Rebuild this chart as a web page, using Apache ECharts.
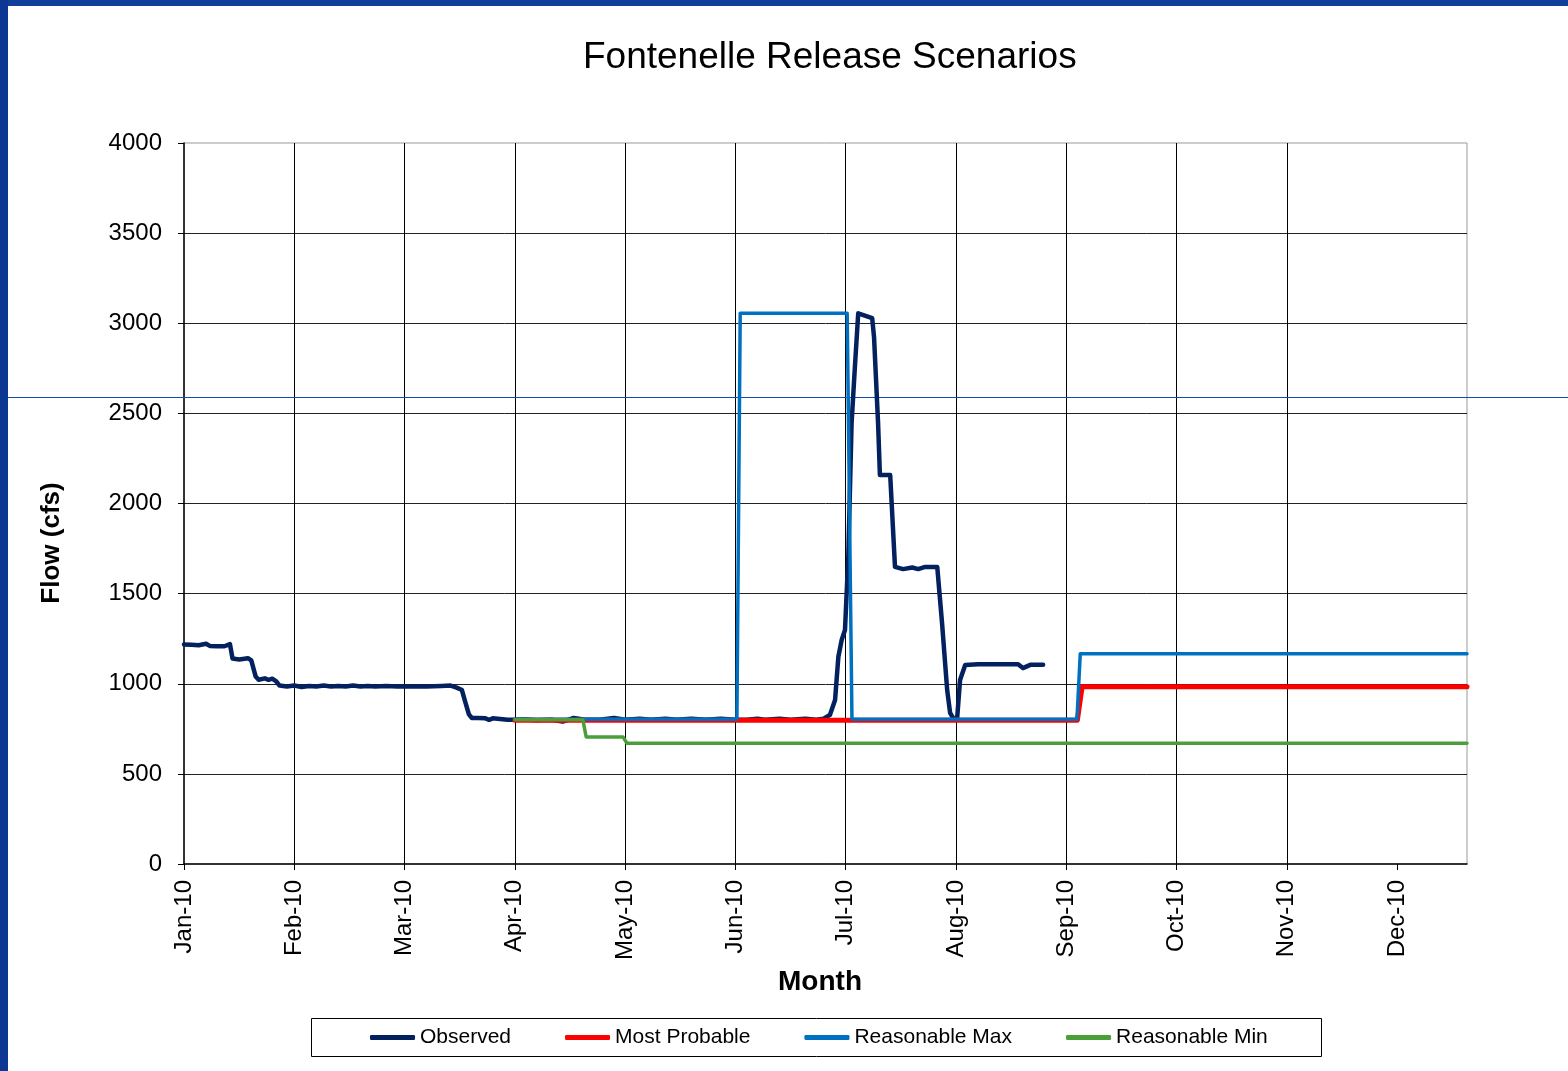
<!DOCTYPE html>
<html>
<head>
<meta charset="utf-8">
<title>Fontenelle Release Scenarios</title>
<script src="https://cdn.jsdelivr.net/npm/echarts@6/dist/echarts.min.js"></script>
<style>
html, body { margin: 0; padding: 0; background: #fff; }
#chart { width: 1568px; height: 1071px; }
</style>
</head>
<body>
<div id="chart"></div>
<script>
// x is days since 1 Jan 2010; the sheet put a tick every 30 days
const monthLabels = ['Jan-10', 'Feb-10', 'Mar-10', 'Apr-10', 'May-10', 'Jun-10',
  'Jul-10', 'Aug-10', 'Sep-10', 'Oct-10', 'Nov-10', 'Dec-10']
const tickDays = [0, 30, 60, 90, 120, 150, 180, 210, 240, 270, 300, 330]

const observedDays = [0, 2, 4, 6, 7, 9, 11, 12.5, 13.2, 15, 17.4, 18.3, 19.5, 20.3, 22, 23, 24, 25, 26,
  28, 30, 32, 34, 36, 38, 40, 42, 44, 46, 48, 50, 52, 55, 58, 62, 66, 70, 72.5, 74, 75.6, 76.5, 77.5,
  78.3, 80, 82, 83, 84, 86, 88, 90, 93, 96, 100, 103, 106, 109, 113, 117, 120, 124, 127, 131, 134,
  138, 142, 146, 150, 153, 156, 158, 162, 165, 169, 172, 174, 175.7, 177.1, 178, 178.9, 179.8, 180.7,
  181.6, 182.5, 183.4, 187.2, 187.7, 188.8, 189.3, 192.1, 193.4, 195.6, 198.1, 199.7, 201.6, 204.9,
  206.2, 207.6, 208.4, 209.2, 210.3, 211.1, 212.5, 216, 220, 224, 226.9, 228.2, 230.2, 233.7]
const observedFlow = [1218, 1216, 1214, 1222, 1210, 1208, 1208, 1220, 1140, 1135, 1142, 1130, 1040, 1022,
  1030, 1022, 1028, 1015, 990, 985, 990, 982, 988, 985, 990, 985, 988, 985, 990, 985, 988, 985, 988,
  985, 985, 985, 988, 990, 980, 965, 900, 830, 810, 810, 808, 800, 808, 805, 800, 800, 802, 798, 800,
  790, 810, 800, 800, 810, 800, 806, 800, 806, 800, 806, 800, 806, 800, 800, 806, 800, 806, 800, 806,
  800, 806, 827, 910, 1150, 1243, 1298, 1705, 2447, 2759, 3055, 3028, 2924, 2447, 2158, 2158, 1648,
  1636, 1645, 1636, 1648, 1648, 1337, 965, 838, 810, 805, 1021, 1104, 1108, 1108, 1108, 1108, 1087,
  1105, 1105]

const probableDays = [90, 243, 244.3, 349]
const probableFlow = [797, 797, 983, 983]

const maxDays = [90, 150.4, 151.3, 180.4, 181.7, 242.9, 243.8, 349]
const maxFlow = [803, 803, 3055, 3055, 803, 803, 1167, 1167]

const minDays = [90, 108.5, 109.4, 119.4, 120.5, 349]
const minFlow = [800, 800, 705, 705, 670, 670]

const pairs = (xs, ys) => xs.map((x, i) => [x, ys[i]])

const font = 'Liberation Sans, Arial, sans-serif'

const lineSeries = (name, xs, ys, color, width) => ({
  name: name,
  type: 'line',
  data: pairs(xs, ys),
  showSymbol: false,
  symbol: 'none',
  animation: false,
  itemStyle: { color: color },
  lineStyle: { color: color, width: width, cap: 'round', join: 'round' }
})

const myChart = echarts.init(document.getElementById('chart'))

const option = {
  backgroundColor: '#ffffff',
  animation: false,
  textStyle: { fontFamily: font, color: '#000' },
  title: {
    text: 'Fontenelle Release Scenarios',
    left: 583,
    top: 39,
    padding: 0,
    textStyle: { fontFamily: font, fontSize: 37, fontWeight: 'normal', color: '#000' }
  },
  grid: {
    left: 184,
    right: 101,
    top: 143,
    bottom: 207,
    show: true,
    backgroundColor: '#fff',
    borderColor: '#9a9a9a',
    borderWidth: 1
  },
  legend: {
    left: 370,
    top: 1027,
    padding: 0,
    icon: 'roundRect',
    itemWidth: 45,
    itemHeight: 5,
    itemGap: 54,
    textStyle: { fontFamily: font, fontSize: 21, color: '#000' },
    data: ['Observed', 'Most Probable', 'Reasonable Max', 'Reasonable Min']
  },
  xAxis: {
    type: 'value',
    min: 0,
    max: 349,
    interval: 30,
    axisLine: { show: true, lineStyle: { color: '#000', width: 1.5 } },
    axisTick: { show: true, customValues: tickDays, length: 6, lineStyle: { color: '#000' } },
    axisLabel: {
      customValues: tickDays,
      rotate: 90,
      margin: 16,
      fontSize: 24,
      fontFamily: font,
      color: '#000',
      padding: [9, 0, 0, 0],
      formatter: function (v) { return monthLabels[Math.round(v / 30)] || '' }
    },
    splitLine: { show: true, showMinLine: false, showMaxLine: false, lineStyle: { color: '#000', width: 1 } }
  },
  yAxis: {
    type: 'value',
    min: 0,
    max: 4000,
    interval: 500,
    axisLine: { show: true, lineStyle: { color: '#000', width: 1.5 } },
    axisTick: { show: true, length: 6, lineStyle: { color: '#000' } },
    axisLabel: {
      margin: 22,
      fontSize: 24,
      fontFamily: font,
      color: '#000',
      formatter: function (v) { return String(v) }
    },
    splitLine: { show: true, showMinLine: false, showMaxLine: false, lineStyle: { color: '#222', width: 1 } }
  },
  graphic: [
    { type: 'rect', left: 0, top: 0, z: 10, shape: { width: 1568, height: 6 }, style: { fill: '#0f3f9a' } },
    { type: 'rect', left: 0, top: 0, z: 10, shape: { width: 8, height: 1071 }, style: { fill: '#0c3893' } },
    { type: 'rect', left: 8, top: 397, z: 1, shape: { width: 1560, height: 1 }, style: { fill: '#0d4fb0' } },
    { type: 'rect', left: 311, top: 1018, z: 0, shape: { width: 1010, height: 38 }, style: { fill: '#fff', stroke: '#000', lineWidth: 1 } },
    {
      type: 'text', x: 52, y: 543, rotation: Math.PI / 2, z: 5,
      style: { text: 'Flow (cfs)', fontFamily: font, fontSize: 26, fontWeight: 'bold', fill: '#000', textAlign: 'center', textVerticalAlign: 'middle' }
    },
    {
      type: 'text', x: 820, y: 982, z: 5,
      style: { text: 'Month', fontFamily: font, fontSize: 28, fontWeight: 'bold', fill: '#000', textAlign: 'center', textVerticalAlign: 'middle' }
    }
  ],
  series: [
    lineSeries('Observed', observedDays, observedFlow, '#03215f', 4.5),
    lineSeries('Most Probable', probableDays, probableFlow, '#ff0000', 5),
    lineSeries('Reasonable Max', maxDays, maxFlow, '#0070c0', 3.5),
    lineSeries('Reasonable Min', minDays, minFlow, '#4b9f38', 3.5)
  ]
}

myChart.setOption(option)
window.onresize = myChart.resize
</script>
</body>
</html>
